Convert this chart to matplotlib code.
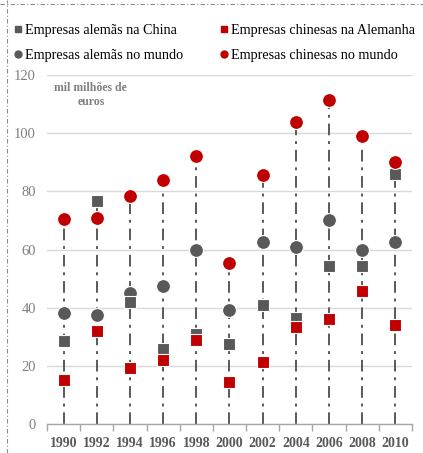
import matplotlib
matplotlib.use("Agg")
import matplotlib.pyplot as plt
from matplotlib.lines import Line2D
import numpy as np

years = ["1990", "1992", "1994", "1996", "1998", "2000", "2002", "2004", "2006", "2008", "2010"]
de_in_china = [28.5, 76.7, 42.0, 25.8, 30.9, 27.5, 40.9, 36.4, 54.3, 54.3, 86.0]
cn_in_germany = [15.1, 32.0, 19.3, 22.0, 28.9, 14.5, 21.3, 33.4, 36.1, 45.7, 34.0]
de_world = [38.2, 37.5, 45.0, 47.5, 59.8, 39.2, 62.6, 60.9, 70.2, 59.8, 62.6]
cn_world = [70.5, 70.8, 78.4, 83.9, 92.2, 55.4, 85.6, 103.8, 111.4, 99.0, 90.1]

GRAY = "#595959"
RED = "#C00000"

plt.rcParams["font.family"] = ["Liberation Serif", "DejaVu Serif"]

fig = plt.figure(figsize=(4.23, 4.53), dpi=100)
ax = fig.add_axes([0.111, 0.064, 0.863, 0.770])

x = np.arange(len(years))
tops = np.max([de_in_china, cn_in_germany, de_world, cn_world], axis=0)

# drop lines from 0 up to the highest point of each year
for xi, top in zip(x, tops):
    ax.plot([xi, xi], [0, top], color=GRAY, lw=1.4, ls=(0, (6, 3, 1.5, 3)), zorder=2)

ax.scatter(x, de_world, marker="o", s=100, color=GRAY, edgecolor="white", lw=0.8, zorder=3)
ax.scatter(x, de_in_china, marker="s", s=85, color=GRAY, edgecolor="white", lw=0.8, zorder=4)
ax.scatter(x, cn_in_germany, marker="s", s=85, color=RED, edgecolor="white", lw=0.8, zorder=4)
ax.scatter(x, cn_world, marker="o", s=100, color=RED, edgecolor="white", lw=0.8, zorder=5)

ax.set_xlim(-0.5, len(years) - 0.5)
ax.set_ylim(0, 120)
ax.set_yticks(np.arange(0, 121, 20))
ax.grid(axis="y", color="#d9d9d9", lw=1)
ax.set_axisbelow(True)
for s in ["top", "right", "left"]:
    ax.spines[s].set_visible(False)
ax.spines["bottom"].set_color("#a6a6a6")
ax.spines["bottom"].set_linewidth(1)

ax.set_xticks(x)
ax.set_xticklabels(years, fontsize=10, fontweight="bold", color=GRAY)
ax.set_xticks(np.arange(-0.5, len(years)), minor=True)
ax.tick_params(axis="x", which="major", length=0, pad=9)
ax.tick_params(axis="x", which="minor", length=5, color="#a6a6a6", width=1)
ax.tick_params(axis="y", length=0, labelsize=10.5, labelcolor="#7f7f7f", pad=8)

ax.text(0.12, 0.98, "mil milhões de\neuros", transform=ax.transAxes, ha="center", va="top",
        fontsize=8.5, fontweight="bold", color="#7f7f7f", linespacing=1.2)

handles = [
    Line2D([], [], ls="", marker="s", ms=5, color=GRAY),
    Line2D([], [], ls="", marker="o", ms=5, color=GRAY),
    Line2D([], [], ls="", marker="s", ms=5, color=RED),
    Line2D([], [], ls="", marker="o", ms=5, color=RED),
]
labels = ["Empresas alemãs na China", "Empresas alemãs no mundo",
          "Empresas chinesas na Alemanha", "Empresas chinesas no mundo"]
fig.legend(handles, labels, ncol=2, loc="upper left", bbox_to_anchor=(0.033, 0.947),
           frameon=False, fontsize=10.2, handlelength=0.6, handletextpad=0.2,
           columnspacing=2.55, labelspacing=0.83, borderaxespad=0, borderpad=0)

# dash-dot frame on the top and left edges
fig.add_artist(Line2D([0, 1], [0.991, 0.991], transform=fig.transFigure,
                      color="#8c8c8c", lw=0.8, ls=(0, (4, 2, 1, 2))))
fig.add_artist(Line2D([0.017, 0.017], [0, 1], transform=fig.transFigure,
                      color="#8c8c8c", lw=0.8, ls=(0, (4, 2, 1, 2))))

fig.savefig("out.png", dpi=100)
